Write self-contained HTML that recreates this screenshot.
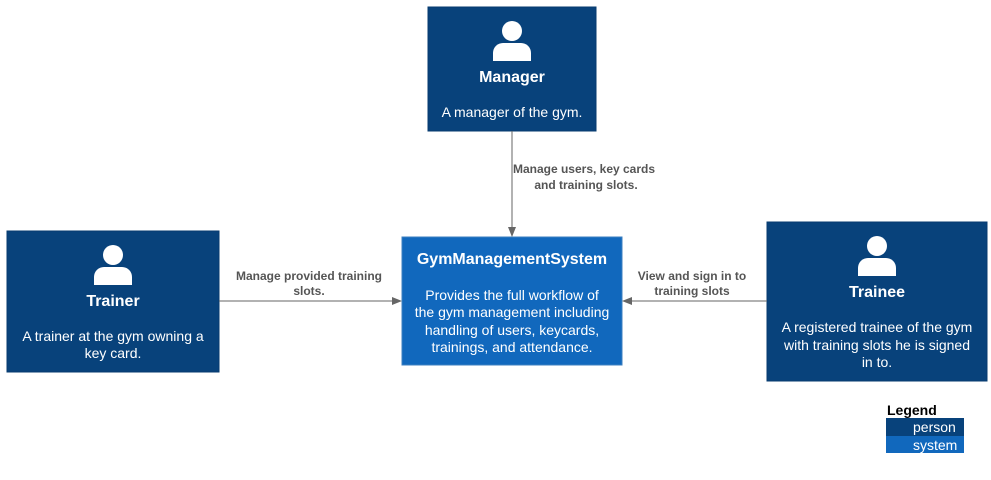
<!DOCTYPE html><html><head><style>body{margin:0;background:#fff;width:991px;height:475px;overflow:hidden}</style></head><body>
<svg width="991" height="475" xmlns="http://www.w3.org/2000/svg" font-family="Liberation Sans, Arial, sans-serif">
<defs>
<g id="p"><circle cx="0" cy="0" r="10" fill="#fff"/><path d="M-19 30 V22 A10 10 0 0 1 -9 12 H9 A10 10 0 0 1 19 22 V30 Z" fill="#fff"/></g>
<marker id="a" markerWidth="10" markerHeight="8" refX="9" refY="4" orient="auto" markerUnits="userSpaceOnUse"><path d="M0 0 L10 4 L0 8 Z" fill="#666"/></marker>
</defs>
<rect x="428" y="7" width="168" height="124" fill="#08427B" stroke="#073B6F"/>
<use href="#p" x="512" y="31"/>
<text x="512" y="82" fill="#fff" font-size="16" font-weight="bold" text-anchor="middle">Manager</text>
<text x="512" y="117" fill="#fff" font-size="14" text-anchor="middle">A manager of the gym.</text>

<rect x="7" y="231" width="212" height="141" fill="#08427B" stroke="#073B6F"/>
<use href="#p" x="113" y="255"/>
<text x="113" y="306" fill="#fff" font-size="16" font-weight="bold" text-anchor="middle">Trainer</text>
<text x="113" y="341" fill="#fff" font-size="14" text-anchor="middle">A trainer at the gym owning a</text>
<text x="113" y="358" fill="#fff" font-size="14" text-anchor="middle">key card.</text>

<rect x="767" y="222" width="220" height="159" fill="#08427B" stroke="#073B6F"/>
<use href="#p" x="877" y="246"/>
<text x="877" y="297" fill="#fff" font-size="16" font-weight="bold" text-anchor="middle">Trainee</text>
<text x="877" y="332" fill="#fff" font-size="14" text-anchor="middle">A registered trainee of the gym</text>
<text x="877" y="350" fill="#fff" font-size="14" text-anchor="middle">with training slots he is signed</text>
<text x="877" y="367" fill="#fff" font-size="14" text-anchor="middle">in to.</text>

<rect x="402" y="237" width="220" height="128" fill="#1168BD" stroke="#3C7FC0"/>
<text x="512" y="264" fill="#fff" font-size="16" font-weight="bold" text-anchor="middle">GymManagementSystem</text>
<text x="512" y="300" fill="#fff" font-size="14" text-anchor="middle">Provides the full workflow of</text>
<text x="512" y="317" fill="#fff" font-size="14" text-anchor="middle">the gym management including</text>
<text x="512" y="335" fill="#fff" font-size="14" text-anchor="middle">handling of users, keycards,</text>
<text x="512" y="352" fill="#fff" font-size="14" text-anchor="middle">trainings, and attendance.</text>

<line x1="512" y1="131" x2="512" y2="236" stroke="#666" marker-end="url(#a)"/>
<line x1="219" y1="301" x2="401" y2="301" stroke="#666" marker-end="url(#a)"/>
<line x1="767" y1="301" x2="623" y2="301" stroke="#666" marker-end="url(#a)"/>
<g fill="#555" font-size="12" font-weight="bold" text-anchor="middle">
<text x="584" y="173">Manage users, key cards</text>
<text x="586" y="189">and training slots.</text>
<text x="309" y="280">Manage provided training</text>
<text x="309" y="295">slots.</text>
<text x="692" y="280">View and sign in to</text>
<text x="692" y="295">training slots</text>
</g>
<text x="887" y="415" font-size="14" font-weight="bold" fill="#000">Legend</text>
<rect x="886" y="418" width="78" height="18" fill="#08427B"/>
<rect x="886" y="436" width="78" height="17" fill="#1168BD"/>
<text x="913" y="432" fill="#fff" font-size="14">person</text>
<text x="913" y="450" fill="#fff" font-size="14">system</text>
</svg></body></html>
